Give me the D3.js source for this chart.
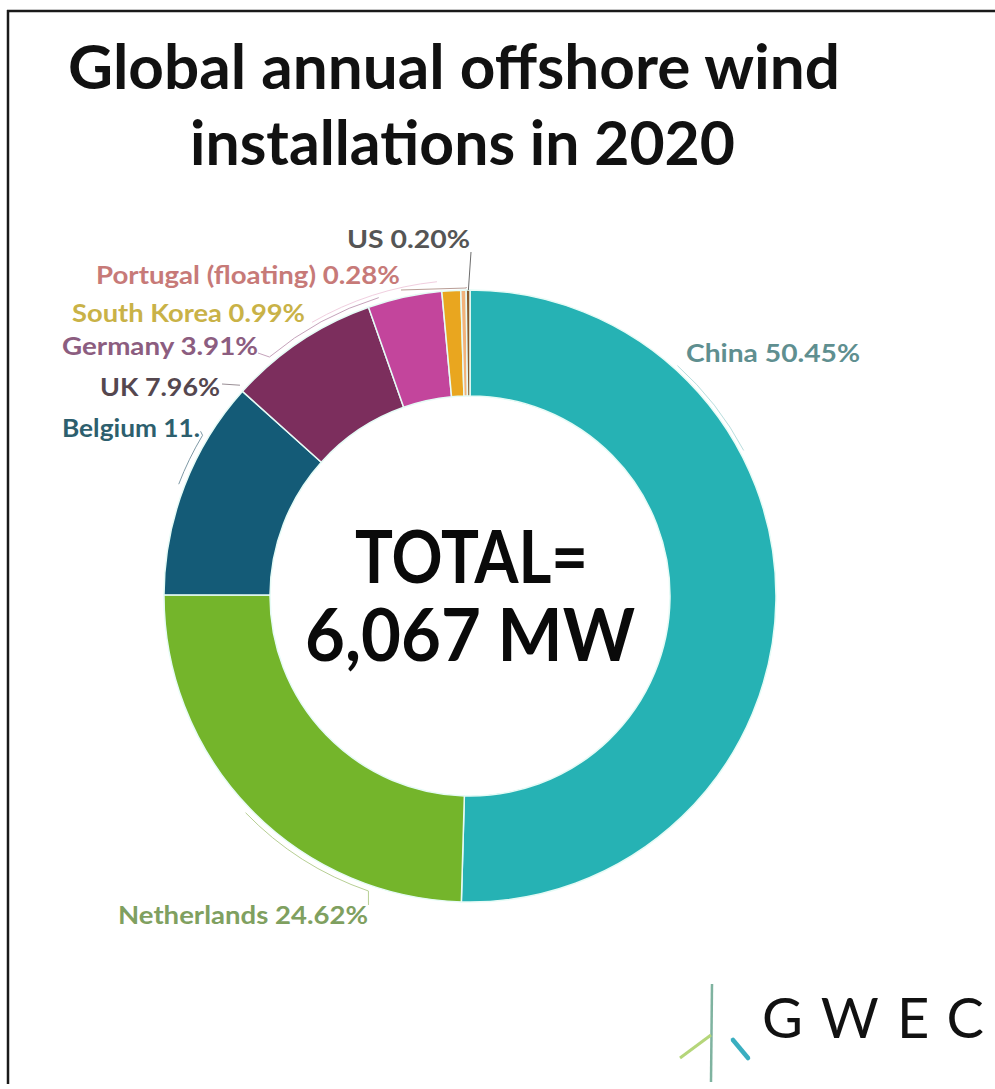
<!DOCTYPE html>
<html>
<head>
<meta charset="utf-8">
<script src="https://cdn.jsdelivr.net/npm/d3@7"></script>
<style>
  html, body { margin: 0; padding: 0; background: #fff; }
  svg { display: block; }
  text { font-family: Lato, "Open Sans", sans-serif; }
</style>
</head>
<body>
<svg id="chart" width="995" height="1089"></svg>
<script>
// Offshore wind installations by country, 2020 (share of global total, %)
const countries = ["China", "Netherlands", "Belgium", "UK", "Germany", "South Korea", "Portugal (floating)", "US"];
const shares    = [50.45, 24.62, 11.59, 7.96, 3.91, 0.99, 0.28, 0.20];
const labels    = ["China 50.45%", "Netherlands 24.62%", "Belgium 11.", "UK 7.96%", "Germany 3.91%",
                   "South Korea 0.99%", "Portugal (floating) 0.28%", "US 0.20%"];
const totalMW   = 6067;

const sliceColors = ["#26b2b4", "#74b52b", "#145b77", "#7c2e5d", "#c3459c", "#e9a61f", "#f3b27a", "#8a5a2a"];
const labelColors = ["#5f8f90", "#7fa060", "#2d5f6e", "#55474f", "#8c5d80", "#c9b247", "#c77a78", "#555555"];

const svg = d3.select("#chart");
const W = 995, H = 1089;

// frame
svg.append("line").attr("x1", 7).attr("x2", W).attr("y1", 11).attr("y2", 11)
  .attr("stroke", "#1a1a1a").attr("stroke-width", 2.5);
svg.append("line").attr("x1", 8).attr("x2", 8).attr("y1", 10).attr("y2", 1084)
  .attr("stroke", "#1a1a1a").attr("stroke-width", 2.5);

// title
const title = svg.append("g").attr("font-weight", 700).attr("fill", "#111");
title.append("text").attr("x", 68).attr("y", 89).attr("font-size", 62)
  .attr("textLength", 772).attr("lengthAdjust", "spacingAndGlyphs")
  .text("Global annual offshore wind");
title.append("text").attr("x", 190).attr("y", 165).attr("font-size", 62)
  .attr("textLength", 545).attr("lengthAdjust", "spacingAndGlyphs")
  .text("installations in 2020");

// donut
const cx = 470, cy = 596, rOuter = 306, rInner = 200;
const g = svg.append("g").attr("transform", `translate(${cx},${cy})`);

const pie = d3.pie().sort(null).value(d => d);
const arcs = pie(shares);
const arc = d3.arc().innerRadius(rInner).outerRadius(rOuter);

g.selectAll("path.slice").data(arcs).join("path")
  .attr("class", "slice")
  .attr("d", arc)
  .attr("fill", (d, i) => sliceColors[i])
  .attr("stroke", "#e6fbf6")
  .attr("stroke-width", 1.5);

// thin leader arcs hugging the ring
const deg = Math.PI / 180;
const leaderArc = (r, a0, a1) => {
  const p = d3.path();
  p.arc(0, 0, r, a0 * deg - Math.PI / 2, a1 * deg - Math.PI / 2, a1 < a0);
  return p.toString();
};
const pt = (r, a) => [r * Math.sin(a * deg), -r * Math.cos(a * deg)];

const leaders = g.append("g").attr("fill", "none").attr("stroke-width", 1);

// China
leaders.append("path").attr("d", leaderArc(310, 42, 62)).attr("stroke", "#b9dede");
// Netherlands
{
  const a = 199, e = pt(312, a);
  leaders.append("path").attr("d", leaderArc(312, 226, a) + `L${e[0]},${e[1] + 14}`).attr("stroke", "#b7cf94");
}
// Belgium
{
  const s = pt(312, 301);
  leaders.append("path").attr("d", leaderArc(312, 291, 301) + `L${s[0] - 2},${s[1] - 4}`).attr("stroke", "#7f9aa6");
}
// UK
{
  const e = pt(312, 312.5);
  leaders.append("path").attr("d", `M${222 - cx},${384 - cy}L${e[0]},${e[1]}`).attr("stroke", "#9a8f96");
}
// Germany
{
  const s = pt(312, 320);
  leaders.append("path").attr("d", `M${258 - cx},${353 - cy}L${s[0]},${s[1]}` + leaderArc(312, 320, 343).replace(/^M[^A]*/, "")).attr("stroke", "#c5a3bb");
}
// South Korea
leaders.append("path").attr("d", leaderArc(316, 330, 354)).attr("stroke", "#f1cfe0");
// Portugal (floating)
{
  const e = pt(309, 359.3);
  leaders.append("path").attr("d", `M${401 - cx},${290 - cy}L${e[0]},${288 - cy}L${e[0]},${e[1]}`).attr("stroke", "#b99d96");
}
// US
{
  const e = pt(306, 359.7);
  leaders.append("path").attr("d", `M${471 - cx},${252 - cy}L${e[0]},${e[1]}`).attr("stroke", "#6d6d6d");
}

// slice labels: [x, baseline, drawn width]
const labelPos = [
  [686, 362, 174],
  [118, 924, 250],
  [62, 437, 138],
  [100, 396, 120],
  [62, 355, 196],
  [72, 322, 233],
  [96, 284, 304],
  [347, 248, 123]
];
svg.append("g").selectAll("text").data(labels).join("text")
  .attr("x", (d, i) => labelPos[i][0])
  .attr("y", (d, i) => labelPos[i][1])
  .attr("textLength", (d, i) => labelPos[i][2])
  .attr("lengthAdjust", "spacingAndGlyphs")
  .attr("font-size", 24)
  .attr("font-weight", 700)
  .attr("fill", (d, i) => labelColors[i])
  .text(d => d);

// centre total
const fmt = d3.format(",");
const centre = svg.append("g").attr("font-weight", 700).attr("fill", "#0a0a0a");
centre.append("text").attr("x", 355).attr("y", 583).attr("font-size", 72)
  .attr("textLength", 233).attr("lengthAdjust", "spacingAndGlyphs").text("TOTAL=");
centre.append("text").attr("x", 305).attr("y", 661).attr("font-size", 72)
  .attr("textLength", 330).attr("lengthAdjust", "spacingAndGlyphs").text(`${fmt(totalMW)} MW`);

// GWEC logo
const logo = svg.append("g");
logo.append("line").attr("x1", 712).attr("x2", 711).attr("y1", 984).attr("y2", 1082)
  .attr("stroke", "#7fb3a0").attr("stroke-width", 2.5);
logo.append("line").attr("x1", 711).attr("x2", 680).attr("y1", 1035).attr("y2", 1058)
  .attr("stroke", "#b5d67a").attr("stroke-width", 3);
logo.append("line").attr("x1", 733).attr("x2", 748).attr("y1", 1040).attr("y2", 1058)
  .attr("stroke", "#3aaec0").attr("stroke-width", 4.5).attr("stroke-linecap", "round");
logo.append("text").attr("x", 762).attr("y", 1038)
  .attr("font-size", 56).attr("font-weight", 400)
  .attr("textLength", 222).attr("lengthAdjust", "spacing")
  .attr("fill", "#111").text("GWEC");
</script>
</body>
</html>
